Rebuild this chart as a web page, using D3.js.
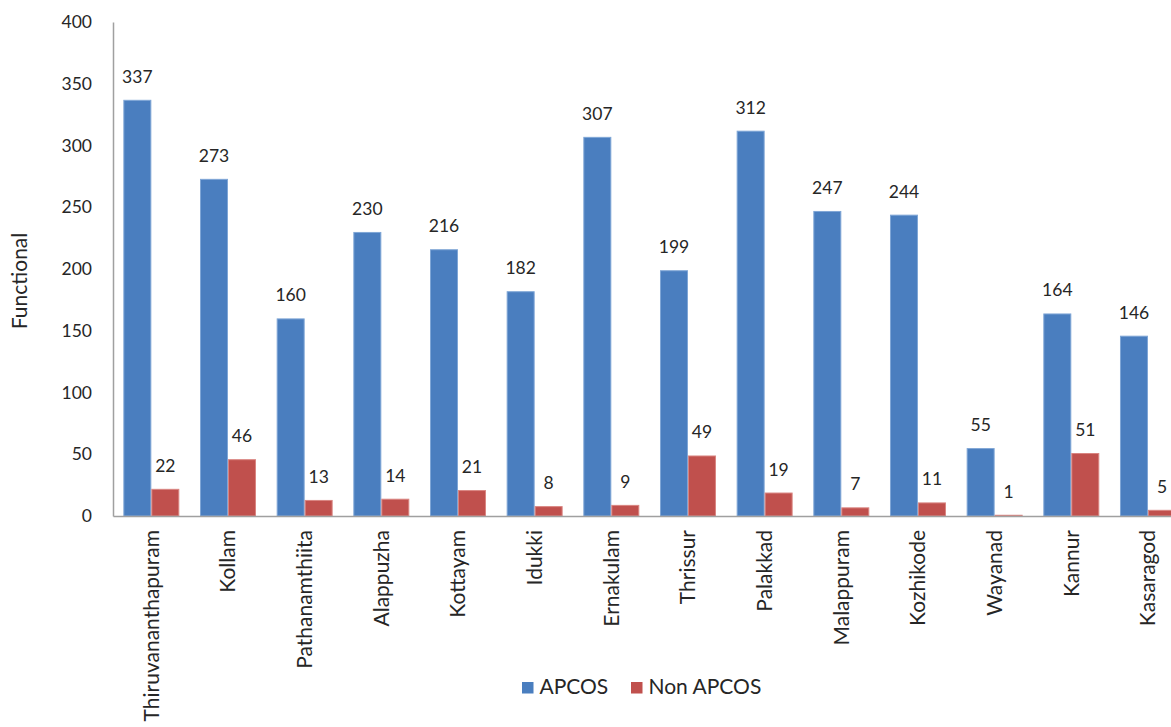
<!DOCTYPE html>
<html>
<head>
<meta charset="utf-8">
<script src="https://cdn.jsdelivr.net/npm/d3@7"></script>
<style>
  html, body { margin: 0; padding: 0; background: #fff; overflow: hidden; }
  svg { display: block; font-family: Lato, "Open Sans", sans-serif; }
</style>
</head>
<body>
<svg id="chart" width="1171" height="727"></svg>
<script>
const categories = ["Thiruvananthapuram", "Kollam", "Pathanamthiita", "Alappuzha", "Kottayam", "Idukki", "Ernakulam", "Thrissur", "Palakkad", "Malappuram", "Kozhikode", "Wayanad", "Kannur", "Kasaragod"];
const seriesNames = ["APCOS", "Non APCOS"];
const apcos = [337, 273, 160, 230, 216, 182, 307, 199, 312, 247, 244, 55, 164, 146];
const nonApcos = [22, 46, 13, 14, 21, 8, 9, 49, 19, 7, 11, 1, 51, 5];
const yTicks = [0, 50, 100, 150, 200, 250, 300, 350, 400];
const yLabel = "Functional";
const colors = ["#4A7EBF", "#C0504D"];
const edgeColors = ["#7FA6D6", "#D98581"];

const svg = d3.select("#chart");
const textColor = "#262626";
const axisColor = "#A0A0A0";

const x = d3.scaleBand().domain(categories).range([113, 1186.3]).paddingInner(0.27).paddingOuter(0.135);
const xs = d3.scaleBand().domain(seriesNames).range([0, x.bandwidth()]).padding(0);
const y = d3.scaleLinear().domain([0, 400]).range([516, 22]);

const seriesData = [apcos, nonApcos];

// bars
seriesNames.forEach((s, si) => {
  const g = svg.append("g");
  g.selectAll("rect").data(categories).join("rect")
    .attr("x", (d) => x(d) + xs(s) + 0.5)
    .attr("y", (d, i) => y(seriesData[si][i]) + 0.5)
    .attr("width", xs.bandwidth() - 1)
    .attr("height", (d, i) => Math.max(0, y(0) - y(seriesData[si][i]) - 0.5))
    .attr("fill", colors[si])
    .attr("stroke", edgeColors[si])
    .attr("stroke-width", 1);
  g.selectAll("text").data(categories).join("text")
    .attr("x", (d) => x(d) + xs(s) + xs.bandwidth() / 2)
    .attr("y", (d, i) => y(seriesData[si][i]) - 17)
    .attr("text-anchor", "middle")
    .attr("font-size", 17.5)
    .attr("fill", textColor)
    .text((d, i) => seriesData[si][i]);
});

// y axis
const yAxis = d3.axisLeft(y).tickValues(yTicks).tickSize(0).tickPadding(21);
const yg = svg.append("g").attr("transform", "translate(113,0)").call(yAxis);
yg.select(".domain").attr("stroke", axisColor).attr("stroke-width", 1.5);
yg.selectAll("text").attr("font-size", 17.5).attr("fill", textColor).attr("font-family", "Lato, sans-serif");

// x axis
const xAxis = d3.axisBottom(x).tickSize(0).tickPadding(0);
const xg = svg.append("g").attr("transform", "translate(0,516)").call(xAxis);
xg.select(".domain").attr("stroke", axisColor).attr("stroke-width", 1.5);
xg.selectAll("text")
  .attr("font-size", 21)
  .attr("fill", textColor)
  .attr("font-family", "Lato, sans-serif")
  .attr("text-anchor", "end")
  .attr("transform", "rotate(-90)")
  .attr("x", -14)
  .attr("y", 0)
  .attr("dy", "0.35em");

// y label
svg.append("text")
  .attr("transform", "translate(20,281) rotate(-90)")
  .attr("text-anchor", "middle")
  .attr("dy", "0.35em")
  .attr("font-size", 21)
  .attr("fill", textColor)
  .text(yLabel);

// legend
const legendX = [522, 631];
seriesNames.forEach((s, i) => {
  svg.append("rect").attr("x", legendX[i]).attr("y", 682).attr("width", 11.5).attr("height", 11.5).attr("fill", colors[i]);
  svg.append("text").attr("x", legendX[i] + 17.5).attr("y", 693.5)
    .attr("font-size", 21).attr("fill", textColor).text(s);
});
</script>
</body>
</html>
